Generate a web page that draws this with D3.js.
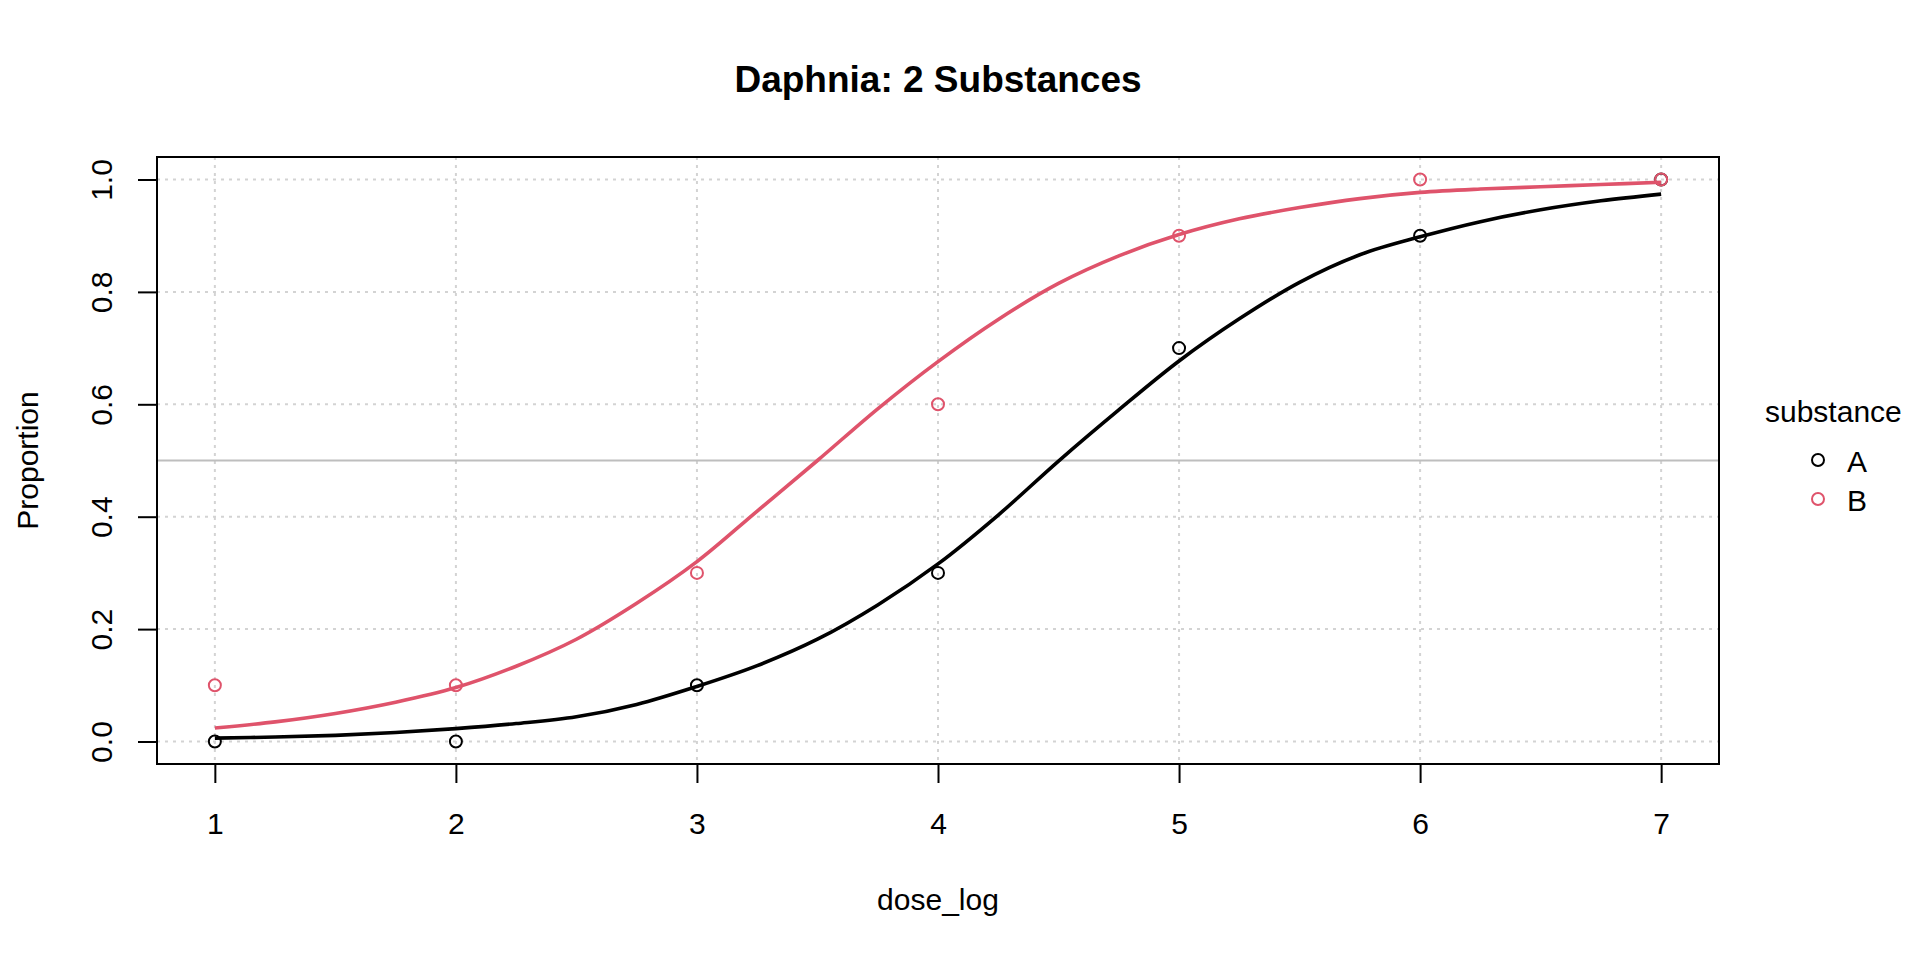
<!DOCTYPE html>
<html>
<head>
<meta charset="utf-8">
<script src="https://cdn.jsdelivr.net/npm/d3@7"></script>
<style>
  body { margin: 0; background: #fff; }
  text { font-family: "Liberation Sans", Arial, sans-serif; fill: #000; }
</style>
</head>
<body>
<div id="chart"></div>
<script>
// observed proportions
const doses = [1, 2, 3, 4, 5, 6, 7];
const propA = [0, 0, 0.1, 0.3, 0.7, 0.9, 1.0];
const propB = [0.1, 0.1, 0.3, 0.6, 0.9, 1.0, 1.0];

// fitted curves
const fitX = [1, 1.25, 1.5, 1.75, 2, 2.25, 2.5, 2.75, 3, 3.25, 3.5, 3.75, 4,
  4.25, 4.5, 4.75, 5, 5.25, 5.5, 5.75, 6, 6.25, 6.5, 6.75, 7];
const fitA = [0.006, 0.008, 0.011, 0.016, 0.023, 0.032, 0.044, 0.066, 0.098, 0.135,
  0.182, 0.243, 0.316, 0.403, 0.499, 0.590, 0.677, 0.752, 0.817, 0.866, 0.898,
  0.925, 0.946, 0.962, 0.974];
const fitB = [0.024, 0.035, 0.050, 0.070, 0.096, 0.134, 0.182, 0.246, 0.320, 0.410,
  0.500, 0.592, 0.676, 0.751, 0.815, 0.864, 0.902, 0.930, 0.950, 0.966, 0.977,
  0.983, 0.987, 0.991, 0.995];

const xTicks = [1, 2, 3, 4, 5, 6, 7];
const yTicks = [0, 0.2, 0.4, 0.6, 0.8, 1.0];
const groups = ["A", "B"];
const colors = { A: "#000000", B: "#DF536B" };

const width = 1920, height = 960;
const plotL = 157, plotR = 1719, plotT = 157, plotB = 764;

const svg = d3.select("#chart").append("svg")
  .attr("width", width)
  .attr("height", height)
  .attr("viewBox", [0, 0, width, height]);

const x = d3.scaleLinear().domain([0.76, 7.24]).range([plotL, plotR]);
const y = d3.scaleLinear().domain([-0.04, 1.04]).range([plotB, plotT]);

// dotted grid
svg.append("g").selectAll("line").data(xTicks).join("line")
  .attr("x1", d => x(d)).attr("x2", d => x(d))
  .attr("y1", plotT).attr("y2", plotB)
  .attr("stroke", "#d3d3d3").attr("stroke-width", 2)
  .attr("stroke-dasharray", "3,5");
svg.append("g").selectAll("line").data(yTicks).join("line")
  .attr("x1", plotL).attr("x2", plotR)
  .attr("y1", d => y(d)).attr("y2", d => y(d))
  .attr("stroke", "#d3d3d3").attr("stroke-width", 2)
  .attr("stroke-dasharray", "3,5");

// 50% reference line
svg.append("line")
  .attr("x1", plotL).attr("x2", plotR)
  .attr("y1", y(0.5)).attr("y2", y(0.5))
  .attr("stroke", "#bebebe").attr("stroke-width", 2);

// axes
const xAxis = g => g
  .attr("transform", `translate(0,${plotB})`)
  .call(d3.axisBottom(x).tickValues(xTicks).tickSize(19).tickFormat(d3.format("d")))
  .call(g => g.select(".domain").remove())
  .call(g => g.selectAll(".tick line").attr("stroke", "#000").attr("stroke-width", 2))
  .call(g => g.selectAll(".tick text")
    .attr("y", 70).attr("dy", 0)
    .style("font-size", "30px")
    .attr("fill", "#000"));

const yAxis = g => g
  .attr("transform", `translate(${plotL},0)`)
  .call(d3.axisLeft(y).tickValues(yTicks).tickSize(19).tickFormat(d3.format(".1f")))
  .call(g => g.select(".domain").remove())
  .call(g => g.selectAll(".tick line").attr("stroke", "#000").attr("stroke-width", 2))
  .call(g => g.selectAll(".tick text")
    .attr("x", null).attr("dy", 0)
    .attr("text-anchor", "middle")
    .attr("transform", "translate(-45,0) rotate(-90)")
    .style("font-size", "30px")
    .attr("fill", "#000"));

svg.append("g").call(xAxis);
svg.append("g").call(yAxis);

// box
svg.append("rect")
  .attr("x", plotL).attr("y", plotT)
  .attr("width", plotR - plotL).attr("height", plotB - plotT)
  .attr("fill", "none").attr("stroke", "#000").attr("stroke-width", 2);

// observed points
const obs = { A: propA, B: propB };
groups.forEach(k => {
  svg.append("g").selectAll("circle").data(doses).join("circle")
    .attr("cx", d => x(d))
    .attr("cy", (d, i) => y(obs[k][i]))
    .attr("r", 6)
    .attr("fill", "none")
    .attr("stroke", colors[k])
    .attr("stroke-width", 2);
});

// fitted curves
const fits = { A: fitA, B: fitB };
const line = d3.line()
  .x(d => x(d[0]))
  .y(d => y(d[1]))
  .curve(d3.curveCatmullRom);
groups.forEach(k => {
  svg.append("path")
    .datum(fitX.map((v, i) => [v, fits[k][i]]))
    .attr("fill", "none")
    .attr("stroke", colors[k])
    .attr("stroke-width", 3.6)
    .attr("d", line);
});

// titles
svg.append("text")
  .attr("x", (plotL + plotR) / 2).attr("y", 92)
  .attr("text-anchor", "middle")
  .style("font-size", "37px").style("font-weight", "bold")
  .text("Daphnia: 2 Substances");

svg.append("text")
  .attr("x", (plotL + plotR) / 2).attr("y", 910)
  .attr("text-anchor", "middle")
  .style("font-size", "30px")
  .text("dose_log");

svg.append("text")
  .attr("transform", `translate(38,${(plotT + plotB) / 2}) rotate(-90)`)
  .attr("text-anchor", "middle")
  .style("font-size", "30px")
  .text("Proportion");

// legend
const legend = svg.append("g");
legend.append("text")
  .attr("x", 1765).attr("y", 422)
  .style("font-size", "30px")
  .text("substance");
groups.forEach((k, i) => {
  const ly = 460 + i * 39;
  legend.append("circle")
    .attr("cx", 1818).attr("cy", ly).attr("r", 6)
    .attr("fill", "none").attr("stroke", colors[k]).attr("stroke-width", 2);
  legend.append("text")
    .attr("x", 1847).attr("y", ly + 12)
    .style("font-size", "30px")
    .text(k);
});
</script>
</body>
</html>
